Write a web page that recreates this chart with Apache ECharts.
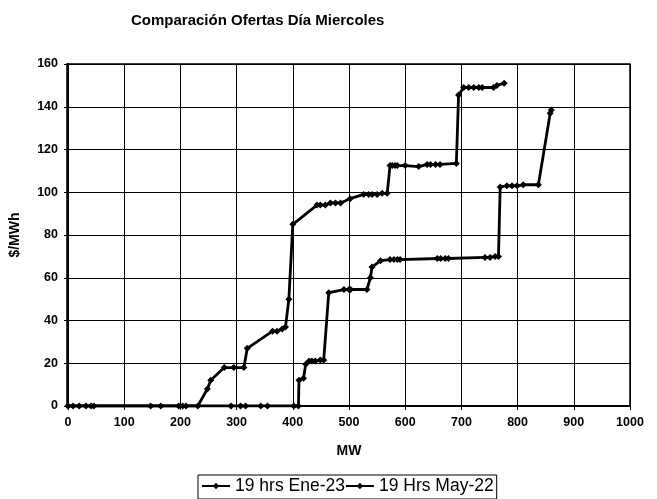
<!DOCTYPE html>
<html><head><meta charset="utf-8">
<script src="https://cdn.jsdelivr.net/npm/echarts@6/dist/echarts.min.js"></script>
<style>html,body{margin:0;padding:0;background:#fff}#c{width:657px;height:499px}</style>
</head><body><div id="c"></div>
<script>
var title = "Comparación Ofertas Día Miercoles";
var xTitle = "MW";
var yTitle = "$/MWh";
var seriesNames = ["19 hrs Ene-23", "19 Hrs May-22"];
var eneMW = [0, 9, 20, 32, 41, 46, 147, 165, 197, 204, 210, 231, 248, 254, 278, 295, 313, 319, 364, 372, 381, 387, 393, 400, 443, 449, 458, 467, 476, 485, 502, 526, 535, 541, 550, 559, 568, 573, 577, 582, 586, 600, 624, 639, 645, 654, 662, 691, 695, 704, 713, 722, 731, 737, 757, 763, 776];
var enePrice = [0, 0, 0, 0, 0, 0, 0, 0, 0, 0, 0, 0, 8, 12, 18, 18, 18, 27, 35, 35, 36, 37, 50, 85, 94, 94, 94, 95, 95, 95, 97, 99, 99, 99, 99, 99.5, 99.5, 112.5, 112.5, 112.5, 112.5, 112.5, 112, 113, 113, 113, 113, 113.5, 145.5, 149, 149, 149, 149, 149, 149, 150, 151];
var mayMW = [0, 290, 307, 316, 343, 355, 402, 410, 411, 419, 423, 429, 434, 440, 449, 455, 464, 491, 500, 503, 532, 538, 541, 556, 573, 580, 586, 591, 657, 663, 671, 677, 742, 751, 760, 766, 769, 781, 790, 799, 810, 837, 858, 860];
var mayPrice = [0, 0, 0, 0, 0, 0, 0, 0, 12, 13, 19.5, 21, 21, 21, 21.5, 21.5, 53, 54.5, 54.5, 54.5, 54.5, 60, 65, 68, 68.5, 68.5, 68.5, 68.5, 69, 69, 69, 69, 69.5, 69.5, 70, 70, 102.5, 103, 103, 103, 103.5, 103.5, 137, 138.5];
var xTicks = {min: 0, max: 1000, interval: 100};
var yTicks = {min: 0, max: 160, interval: 20};

function pairs(xs, ys) { return xs.map(function (x, i) { return [x, ys[i]]; }); }

var font = "Liberation Sans, Arial, sans-serif";
var chart = echarts.init(document.getElementById('c'), null, {renderer: 'canvas'});
function mkSeries(name, xs, ys) {
  return {
    name: name, type: 'line', data: pairs(xs, ys),
    symbol: 'diamond', symbolSize: 7, showAllSymbol: true,
    lineStyle: {color: '#000', width: 2.8},
    itemStyle: {color: '#000'},
    animation: false
  };
}
chart.setOption({
  backgroundColor: '#fff',
  title: {text: title, left: 126, top: 8,
    textStyle: {fontFamily: font, fontSize: 15, fontWeight: 'bold', color: '#000'}},
  grid: {left: 67, right: 27, top: 64, bottom: 93},
  legend: {
    data: seriesNames, top: 475, left: 198,
    borderColor: '#000', borderWidth: 1, padding: [2, 3, 4, 3],
    itemGap: 0, itemWidth: 28, itemHeight: 8,
    textStyle: {fontFamily: font, fontSize: 17.5, color: '#000'}
  },
  xAxis: {
    type: 'value', min: xTicks.min, max: xTicks.max, interval: xTicks.interval,
    name: xTitle, nameLocation: 'middle', nameGap: 38,
    nameTextStyle: {fontFamily: font, fontSize: 14, fontWeight: 'bold', color: '#000'},
    axisLine: {show: true, lineStyle: {color: '#000', width: 2}},
    axisTick: {show: true, length: 4, lineStyle: {color: '#000'}},
    axisLabel: {fontFamily: font, fontSize: 12.5, fontWeight: 'bold', color: '#000', margin: 10,
      formatter: function (v) { return String(v); }},
    splitLine: {show: true, lineStyle: {color: '#000', width: 1}}
  },
  yAxis: {
    type: 'value', min: yTicks.min, max: yTicks.max, interval: yTicks.interval,
    name: yTitle, nameLocation: 'middle', nameGap: 46, nameRotate: 90,
    nameTextStyle: {fontFamily: font, fontSize: 14, fontWeight: 'bold', color: '#000'},
    axisLine: {show: true, lineStyle: {color: '#000', width: 2}},
    axisTick: {show: true, length: 4, lineStyle: {color: '#000'}},
    axisLabel: {fontFamily: font, fontSize: 12.5, fontWeight: 'bold', color: '#000', margin: 10},
    splitLine: {show: true, lineStyle: {color: '#000', width: 1}}
  },
  series: [
    mkSeries(seriesNames[0], eneMW, enePrice),
    mkSeries(seriesNames[1], mayMW, mayPrice)
  ],
  graphic: [{type: 'rect', shape: {x: 67, y: 64, width: 563, height: 342},
    style: {fill: 'none', stroke: '#000', lineWidth: 1.5}, silent: true, z: 10}]
});
</script></body></html>
